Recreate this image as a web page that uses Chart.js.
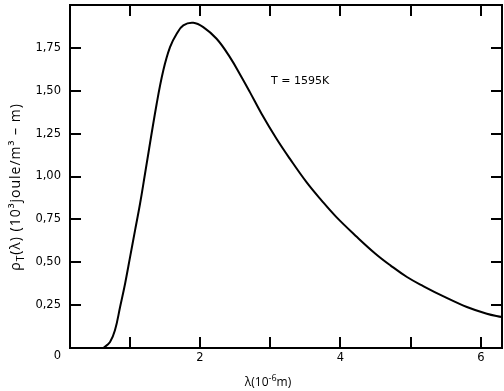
<!DOCTYPE html>
<html>
<head>
<meta charset="utf-8">
<script src="https://cdn.jsdelivr.net/npm/chart.js@4"></script>
<style>
  html, body { margin: 0; padding: 0; background: #fff; }
  #wrap { width: 504px; height: 391px; position: relative; }
</style>
</head>
<body>
<div id="wrap"><canvas id="planck"></canvas></div>
<script>
const lambda = [0.626, 0.72, 0.79, 0.863, 0.934, 1.005, 1.076, 1.147, 1.218, 1.384, 1.478,
                1.574, 1.669, 1.763, 1.905, 2.047, 2.237, 2.426, 2.593, 2.711, 2.877, 3.09, 3.279,
                3.517, 3.73, 3.943, 4.236, 4.498, 4.711, 4.947, 5.184, 5.468, 5.80, 6.084, 6.30];
const rho = [0.00, 0.035, 0.103, 0.239, 0.375, 0.530, 0.686, 0.841, 1.016, 1.424, 1.618,
             1.754, 1.832, 1.881, 1.896, 1.871, 1.803, 1.696, 1.579, 1.492, 1.366, 1.220, 1.104,
             0.967, 0.861, 0.763, 0.647, 0.550, 0.482, 0.414, 0.360, 0.301, 0.239, 0.200, 0.180];

// as-indeling
const xTicks = [1, 2, 3, 4, 5, 6];
const xLabels = ['', '2', '', '4', '', '6'];
const yTicks = [0, 0.25, 0.5, 0.75, 1.0, 1.25, 1.5, 1.75];
const yLabels = ['', '0,25', '0,50', '0,75', '1,00', '1,25', '1,50', '1,75'];
const tempLabel = 'T = 1595K';

const tickFont = { family: 'DejaVu Sans', size: 11.5 };
const TICK = 11;

// tekst in stukjes tekenen (voor sub- en superscript)
function drawParts(ctx, parts, cx, cy) {
  let w = 0;
  parts.forEach(p => { ctx.font = p[1]; w += ctx.measureText(p[0]).width; });
  let x = cx - w / 2;
  ctx.textAlign = 'left';
  parts.forEach(p => {
    ctx.font = p[1];
    ctx.fillText(p[0], x, cy + p[2]);
    x += ctx.measureText(p[0]).width;
  });
}

// kader, naar binnen gerichte streepjes en extra teksten
const framePlugin = {
  id: 'frame',
  afterDraw(chart) {
    const ctx = chart.ctx;
    const a = chart.chartArea;
    const xs = chart.scales.x, ys = chart.scales.y;
    ctx.save();
    ctx.strokeStyle = '#000';
    ctx.lineWidth = 2;
    ctx.strokeRect(a.left, a.top, a.right - a.left, a.bottom - a.top);
    ctx.beginPath();
    xTicks.forEach(v => {
      const px = Math.round(xs.getPixelForValue(v));
      ctx.moveTo(px, a.bottom); ctx.lineTo(px, a.bottom - TICK);
      ctx.moveTo(px, a.top); ctx.lineTo(px, a.top + TICK);
    });
    yTicks.forEach(v => {
      if (v === 0) return;
      const py = Math.round(ys.getPixelForValue(v));
      ctx.moveTo(a.left, py); ctx.lineTo(a.left + TICK, py);
      ctx.moveTo(a.right, py); ctx.lineTo(a.right - TICK, py);
    });
    ctx.stroke();

    ctx.fillStyle = '#000';
    ctx.font = '11.5px "DejaVu Sans"';
    ctx.textAlign = 'right';
    ctx.textBaseline = 'middle';
    ctx.fillText('0', 61, a.bottom + 8);

    ctx.font = '11px "DejaVu Sans"';
    ctx.textAlign = 'left';
    ctx.fillText(tempLabel, 271, 81);

    // x-as titel
    ctx.textBaseline = 'alphabetic';
    drawParts(ctx, [['λ(10', '12px "Open Sans"', 0], ['-6', '9px "Open Sans"', -5], ['m)', '12px "Open Sans"', 0]], 268, 386);

    // y-as titel met subscript T
    ctx.translate(20, 187);
    ctx.rotate(-Math.PI / 2);
    ctx.letterSpacing = '1px';
    drawParts(ctx, [['ρ', '14px "Open Sans"', 0], ['T', '10px "Open Sans"', 4],
                    ['(λ) (10³joule/m³ – m)', '14px "Open Sans"', 0]], 0, 0);
    ctx.restore();
  }
};

new Chart(document.getElementById('planck'), {
  type: 'line',
  data: {
    datasets: [{
      data: lambda.map((l, i) => ({ x: l, y: rho[i] })),
      borderColor: '#000',
      borderWidth: 2,
      pointRadius: 0,
      tension: 0.4,
      fill: false
    }]
  },
  options: {
    responsive: true,
    maintainAspectRatio: false,
    animation: false,
    layout: { padding: { top: 5, right: 2, left: 0, bottom: 0 } },
    plugins: { legend: { display: false }, tooltip: { enabled: false } },
    scales: {
      x: {
        type: 'linear',
        min: 0.15,
        max: 6.3,
        afterBuildTicks: s => { s.ticks = xTicks.map(v => ({ value: v })); },
        afterFit: s => { s.height = 43; s.paddingLeft = 0; s.paddingRight = 0; },
        grid: { display: false, drawTicks: false },
        border: { display: false },
        ticks: {
          padding: 3,
          color: '#000',
          font: tickFont,
          maxRotation: 0,
          autoSkip: false,
          callback: v => xLabels[xTicks.indexOf(v)]
        }
      },
      y: {
        min: 0,
        max: 2.0,
        afterBuildTicks: s => { s.ticks = yTicks.map(v => ({ value: v })); },
        afterFit: s => { s.width = 70; s.paddingTop = 0; s.paddingBottom = 0; },
        grid: { display: false, drawTicks: false },
        border: { display: false },
        ticks: {
          padding: 9,
          color: '#000',
          font: tickFont,
          autoSkip: false,
          callback: v => yLabels[yTicks.indexOf(v)]
        }
      }
    }
  },
  plugins: [framePlugin]
});
</script>
</body>
</html>
